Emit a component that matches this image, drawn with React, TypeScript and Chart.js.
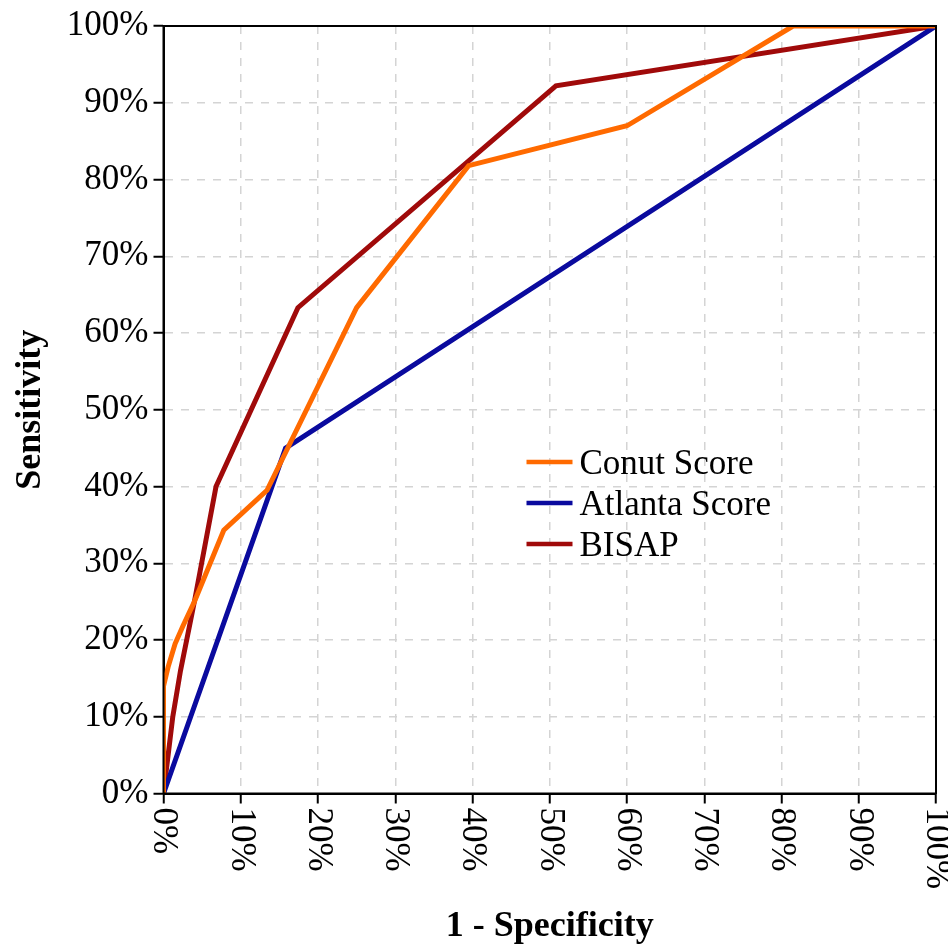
import React, { useEffect, useRef } from "react";
import { Chart, registerables } from "chart.js";

Chart.register(...registerables);

// ---- data ----
const tickValues = [0, 10, 20, 30, 40, 50, 60, 70, 80, 90, 100];
const tickLabels = ["0%", "10%", "20%", "30%", "40%", "50%", "60%", "70%", "80%", "90%", "100%"];

const seriesNames = ["Conut Score", "Atlanta Score", "BISAP"];

const conutX = [0, 0, 0.6, 1.5, 2.5, 4, 7.8, 13.4, 25, 39.5, 60, 81.5, 100];
const conutY = [0, 14, 16.5, 19.5, 21.8, 25, 34.3, 39.5, 63.3, 81.8, 87, 100, 100];

const atlantaX = [0, 15.8, 100];
const atlantaY = [0, 45, 100];

const bisapX = [0, 1.2, 2.2, 4, 6.8, 17.4, 50.8, 100];
const bisapY = [0, 10, 16, 25, 40, 63.3, 92.2, 100];

const seriesColors = ["#FF6A00", "#0A0A9E", "#A00A0A"];

const FONT = '"Liberation Serif", "Times New Roman", serif';

function pts(xs: number[], ys: number[]) {
  return xs.map((x, i) => ({ x, y: ys[i] }));
}

const overlayPlugin = {
  id: "overlay",
  afterDraw(chart: any) {
    const ctx = chart.ctx;
    const xs = chart.scales.x;
    const area = chart.chartArea;
    ctx.save();
    // frame (top and right borders)
    ctx.strokeStyle = "#000";
    ctx.lineWidth = 2;
    ctx.strokeRect(area.left, area.top, area.right - area.left, area.bottom - area.top);

    // rotated x tick labels (clockwise, reading top to bottom)
    ctx.font = `35px ${FONT}`;
    ctx.fillStyle = "#000";
    ctx.textAlign = "left";
    ctx.textBaseline = "middle";
    tickValues.forEach((v, i) => {
      const px = xs.getPixelForValue(v);
      ctx.save();
      ctx.translate(px, xs.top + 14);
      ctx.rotate(Math.PI / 2);
      ctx.fillText(tickLabels[i], 0, 0);
      ctx.restore();
    });

    // legend inside plot
    const lx = area.left + 363;
    let ly = area.top + 436;
    chart.data.datasets.forEach((ds: any) => {
      ctx.strokeStyle = ds.borderColor;
      ctx.lineWidth = 4.5;
      ctx.beginPath();
      ctx.moveTo(lx, ly);
      ctx.lineTo(lx + 46, ly);
      ctx.stroke();
      ctx.fillStyle = "#000";
      ctx.textBaseline = "middle";
      ctx.fillText(ds.label, lx + 53, ly + 3);
      ly += 41;
    });
    ctx.restore();
  },
};

export default function App() {
  const ref = useRef<HTMLCanvasElement | null>(null);

  useEffect(() => {
    if (!ref.current) return;
    const gridCommon = {
      color: "#d4d4d4",
      lineWidth: 1.5,
      tickColor: "#000",
      tickLength: 10,
      tickWidth: 2,
    };
    const lineStyle = { borderWidth: 5, pointRadius: 0, tension: 0, borderJoinStyle: "miter" as any };
    const chart = new Chart(ref.current, {
      type: "line",
      data: {
        datasets: [
          { label: seriesNames[0], data: pts(conutX, conutY), borderColor: seriesColors[0], backgroundColor: seriesColors[0], ...lineStyle },
          { label: seriesNames[1], data: pts(atlantaX, atlantaY), borderColor: seriesColors[1], backgroundColor: seriesColors[1], ...lineStyle },
          { label: seriesNames[2], data: pts(bisapX, bisapY), borderColor: seriesColors[2], backgroundColor: seriesColors[2], ...lineStyle },
        ],
      },
      options: {
        animation: false,
        responsive: false,
        maintainAspectRatio: false,
        layout: { padding: { left: 0, top: 22, right: 12, bottom: 0 } },
        plugins: {
          legend: { display: false },
          tooltip: { enabled: false },
        },
        scales: {
          x: {
            type: "linear",
            min: 0,
            max: 100,
            ticks: { stepSize: 10, display: false },
            grid: gridCommon,
            border: { display: true, color: "#000", width: 2, dash: [8, 8] },
            title: {
              display: true,
              text: "1 - Specificity",
              color: "#000",
              font: { family: FONT, size: 36, weight: "bold", lineHeight: 1.2 },
              padding: { top: 0, bottom: 0 },
            },
            afterFit: (s: any) => {
              s.height = 154.5;
            },
          },
          y: {
            type: "linear",
            min: 0,
            max: 100,
            ticks: {
              stepSize: 10,
              color: "#000",
              padding: 5,
              font: { family: FONT, size: 35 },
              callback: (v: any) => tickLabels[tickValues.indexOf(Number(v))] ?? "",
            },
            grid: gridCommon,
            border: { display: true, color: "#000", width: 2, dash: [8, 8] },
            title: {
              display: true,
              text: "Sensitivity",
              color: "#000",
              font: { family: FONT, size: 36, weight: "bold", lineHeight: 1.2 },
              padding: { top: 9, bottom: 0 },
            },
            afterFit: (s: any) => {
              s.width = 163.5;
            },
          },
        },
      },
      plugins: [overlayPlugin],
    });
    return () => chart.destroy();
  }, []);

  return (
    <div style={{ position: "fixed", left: 0, top: 0, width: 948, height: 948, background: "#fff" }}>
      <canvas ref={ref} width={948} height={948} style={{ display: "block", width: 948, height: 948 }} />
    </div>
  );
}
